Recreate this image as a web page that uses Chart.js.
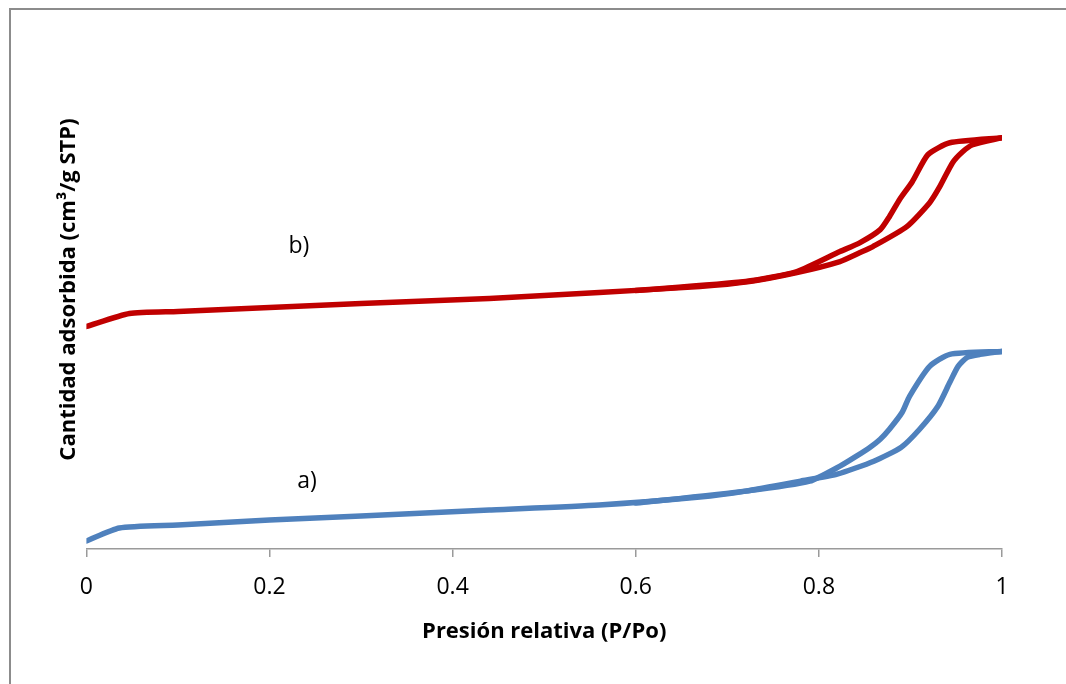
<!DOCTYPE html>
<html>
<head>
<meta charset="utf-8">
<script src="https://cdn.jsdelivr.net/npm/chart.js@4"></script>
<style>
  body { margin: 0; background: #fff; }
  #frame { position: absolute; left: 9px; top: 8px; width: 1200px; height: 800px; border: 2px solid #8c8c8c; }
  #graph { position: absolute; left: 0; top: 0; }
</style>
</head>
<body>
<div id="frame"></div>
<canvas id="graph" width="1066" height="684"></canvas>
<script>
// muestra a) - adsorcion y desorcion
const presionAdsA = [0, 0.036, 0.1, 0.2, 0.3, 0.44, 0.56, 0.67, 0.72, 0.78, 0.82, 0.86, 0.89, 0.91, 0.93, 0.943, 0.952, 0.962, 0.976, 1.0]
const cantidadAdsA = [8, 21, 24, 29, 33, 39, 44, 52, 58, 68, 75, 88, 102, 120, 143, 167, 183, 192, 195, 198]
const presionDesA = [1.0, 0.943, 0.921, 0.899, 0.891, 0.877, 0.867, 0.856, 0.841, 0.823, 0.79, 0.72, 0.6]
const cantidadDesA = [198, 195, 183, 153, 137, 120, 110, 102, 93, 83, 68, 58, 46]

// muestra b)
const presionAdsB = [0, 0.047, 0.1, 0.2, 0.3, 0.44, 0.56, 0.67, 0.724, 0.776, 0.823, 0.845, 0.859, 0.896, 0.921, 0.932, 0.946, 0.957, 0.968, 1.0]
const cantidadAdsB = [223, 236, 238, 242, 246, 251, 257, 263, 268, 277, 288, 297, 303, 323, 347, 363, 387, 398, 405, 412]
const presionDesB = [1.0, 0.943, 0.919, 0.902, 0.888, 0.877, 0.867, 0.845, 0.823, 0.776, 0.72, 0.6]
const cantidadDesB = [412, 407, 395, 368, 350, 333, 320, 307, 298, 278, 268, 259]

const xTicks = [0, 0.2, 0.4, 0.6, 0.8, 1]

// etiquetas de las curvas
const etiquetas = [
    { text: 'b)', x: 0.232, y: 303 },
    { text: 'a)', x: 0.241, y: 68 }
]

function puntos(xs, ys) {
    return xs.map((x, i) => ({ x: x, y: ys[i] }))
}

const etiquetasPlugin = {
    id: 'etiquetas',
    afterDatasetsDraw(chart) {
        const ctx = chart.ctx
        ctx.save()
        ctx.font = '23px "Open Sans"'
        ctx.fillStyle = '#000'
        ctx.textAlign = 'center'
        ctx.textBaseline = 'middle'
        etiquetas.forEach(e => {
            ctx.fillText(e.text, chart.scales.x.getPixelForValue(e.x), chart.scales.y.getPixelForValue(e.y))
        })
        ctx.restore()
    }
}

const lineA = { borderColor: '#4F81BD', backgroundColor: 'transparent', borderWidth: 5.5, pointRadius: 0, showLine: true, tension: 0.2, borderCapStyle: 'round', borderJoinStyle: 'round' }
const lineB = { borderColor: '#C00000', backgroundColor: 'transparent', borderWidth: 5.5, pointRadius: 0, showLine: true, tension: 0.2, borderCapStyle: 'round', borderJoinStyle: 'round' }

new Chart(document.getElementById('graph').getContext('2d'), {
    type: 'scatter',
    data: {
        datasets: [
            { label: 'a) ads', data: puntos(presionAdsA, cantidadAdsA), ...lineA },
            { label: 'a) des', data: puntos(presionDesA, cantidadDesA), ...lineA },
            { label: 'b) ads', data: puntos(presionAdsB, cantidadAdsB), ...lineB },
            { label: 'b) des', data: puntos(presionDesB, cantidadDesB), ...lineB }
        ]
    },
    options: {
        responsive: false,
        animation: false,
        layout: { padding: { left: 52, right: 64, top: 30, bottom: 39 } },
        plugins: { legend: { display: false }, tooltip: { enabled: false } },
        scales: {
            x: {
                type: 'linear',
                min: 0,
                max: 1,
                afterBuildTicks: axis => { axis.ticks = xTicks.map(v => ({ value: v })) },
                grid: { drawOnChartArea: false, drawTicks: true, tickLength: 8, color: '#9a9a9a', lineWidth: 1.5 },
                border: { display: true, color: '#9a9a9a', width: 1.5 },
                ticks: { color: '#000', padding: 17, font: { family: 'Open Sans', size: 23 }, callback: v => String(v) },
                title: { display: true, text: 'Presión relativa (P/Po)', color: '#000', font: { family: 'Open Sans', size: 22, weight: 'bold' }, padding: { top: 0, bottom: 0 } }
            },
            y: {
                min: 0,
                max: 520,
                grid: { display: false, drawTicks: false },
                border: { display: false },
                ticks: { display: false },
                title: { display: true, text: 'Cantidad adsorbida (cm³/g STP)', color: '#000', font: { family: 'Open Sans', size: 22, weight: 'bold' }, padding: { top: 4, bottom: 4 } }
            }
        }
    },
    plugins: [etiquetasPlugin]
})
</script>
</body>
</html>
